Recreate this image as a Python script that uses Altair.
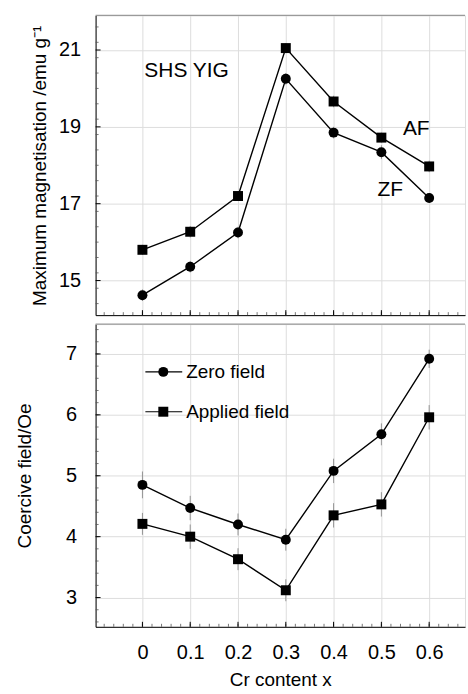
import altair as alt
import pandas as pd

# ---- data ----
x_vals = [0, 0.1, 0.2, 0.3, 0.4, 0.5, 0.6]

mag_zf = [14.62, 15.36, 16.25, 20.25, 18.85, 18.34, 17.15]
mag_af = [15.80, 16.27, 17.20, 21.05, 19.66, 18.72, 17.97]
mag_zf_err = [0.15, 0.15, 0.15, 0.15, 0.15, 0.18, 0.12]
mag_af_err = [0.13, 0.15, 0.13, 0.13, 0.15, 0.13, 0.15]

coe_zf = [4.85, 4.47, 4.20, 3.95, 5.08, 5.68, 6.92]
coe_af = [4.21, 4.00, 3.63, 3.12, 4.35, 4.53, 5.96]
coe_zf_err = [0.22, 0.20, 0.18, 0.18, 0.20, 0.18, 0.15]
coe_af_err = [0.18, 0.20, 0.18, 0.18, 0.20, 0.20, 0.20]

series_codes = ["ZF", "AF"]
series_shapes = ["circle", "square"]
legend_labels = ["Zero field", "Applied field"]

top_ticks = [15, 17, 19, 21]
bot_ticks = [3, 4, 5, 6, 7]
x_ticks = [0, 0.1, 0.2, 0.3, 0.4, 0.5, 0.6]

annot_text = ["SHS YIG", "AF", "ZF"]
annot_x = [0.004, 0.545, 0.492]
annot_y = [20.45, 18.95, 17.35]

FONT = "Liberation Sans"
W = 371
H_TOP = 301
H_BOT = 304
X_DOMAIN = [-0.098, 0.675]


def long_df(zf, af, zf_err, af_err):
    rows = []
    for code, vals, errs in (("ZF", zf, zf_err), ("AF", af, af_err)):
        for x, v, e in zip(x_vals, vals, errs):
            rows.append({"x": x, "v": v, "lo": v - e, "hi": v + e, "s": code})
    return pd.DataFrame(rows)


def panel(df, ydom, height, major, minor, title, title_x, label_pad, show_x, extras):
    xs = alt.Scale(domain=X_DOMAIN, nice=False, zero=False)
    ys = alt.Scale(domain=ydom, nice=False, zero=False)
    xaxis = alt.Axis(values=x_ticks, format="~g", tickSize=0, labels=show_x,
                     labelPadding=16, title="Cr content x" if show_x else None,
                     titlePadding=8, domainColor="black", labelFontSize=20,
                     titleFontSize=19, titleFontWeight="normal")
    yaxis = alt.Axis(values=major, format="~g", tickSize=0, labelPadding=label_pad,
                     title=title, titleX=title_x, titleBaseline="middle",
                     domainColor="black", labelFontSize=20, titleFontSize=19,
                     titleFontWeight="normal")
    base = alt.Chart(df)
    err = base.mark_rule(color="#8a8a8a", strokeWidth=0.9).encode(
        x=alt.X("x:Q", scale=xs, axis=xaxis),
        y=alt.Y("lo:Q", scale=ys, axis=yaxis),
        y2="hi:Q",
    )
    line = base.mark_line(color="black", strokeWidth=1.4).encode(
        x=alt.X("x:Q", scale=xs), y=alt.Y("v:Q", scale=ys), detail="s:N"
    )
    pts = base.mark_point(filled=True, color="black", size=100, opacity=1).encode(
        x=alt.X("x:Q", scale=xs), y=alt.Y("v:Q", scale=ys),
        shape=alt.Shape("s:N", scale=alt.Scale(domain=series_codes, range=series_shapes),
                        legend=None),
    )
    # inward ticks
    ymaj = alt.Chart(pd.DataFrame({"t": major})).mark_rule(color="black").encode(
        y=alt.Y("t:Q", scale=ys), x=alt.value(0), x2=alt.value(5))
    ymin = alt.Chart(pd.DataFrame({"t": minor})).mark_rule(color="#555", strokeWidth=0.8).encode(
        y=alt.Y("t:Q", scale=ys), x=alt.value(0), x2=alt.value(3))
    xmaj = alt.Chart(pd.DataFrame({"t": x_ticks})).mark_rule(color="black").encode(
        x=alt.X("t:Q", scale=xs), y=alt.value(height), y2=alt.value(height - 5))
    xminor_vals = [round(-0.08 + 0.02 * i, 2) for i in range(38)]
    xmin = alt.Chart(pd.DataFrame({"t": xminor_vals})).mark_rule(color="#555", strokeWidth=0.8).encode(
        x=alt.X("t:Q", scale=xs), y=alt.value(height), y2=alt.value(height - 3))
    topline = alt.Chart(pd.DataFrame({"a": [0]})).mark_rule(color="#9a9a9a", strokeWidth=1.2).encode(
        x=alt.value(0), x2=alt.value(W), y=alt.value(0))
    layers = [topline, ymin, ymaj, xmin, xmaj, err, line, pts] + extras(xs, ys)
    return alt.layer(*layers).properties(width=W, height=height)


def top_extras(xs, ys):
    adf = pd.DataFrame({"t": annot_text, "x": annot_x, "y": annot_y})
    return [alt.Chart(adf).mark_text(align="left", baseline="middle", fontSize=21,
                                     font=FONT, color="black").encode(
        x=alt.X("x:Q", scale=xs), y=alt.Y("y:Q", scale=ys), text="t:N")]


def bot_extras(xs, ys):
    out = []
    for i, (lab, shp) in enumerate(zip(legend_labels, series_shapes)):
        yy = 48 + 40 * i
        d = pd.DataFrame({"lab": [lab]})
        out.append(alt.Chart(d).mark_rule(color="black", strokeWidth=1.1).encode(
            x=alt.value(50), x2=alt.value(87), y=alt.value(yy)))
        out.append(alt.Chart(d).mark_point(filled=True, color="black", size=100, opacity=1,
                                           shape=shp).encode(
            x=alt.value(68), y=alt.value(yy)))
        out.append(alt.Chart(d).mark_text(align="left", baseline="middle", fontSize=19,
                                          font=FONT, color="black").encode(
            x=alt.value(91), y=alt.value(yy), text="lab:N"))
    return out


top = panel(long_df(mag_zf, mag_af, mag_zf_err, mag_af_err), [14.1, 21.9], H_TOP,
            top_ticks, [round(14.4 + 0.4 * i, 1) for i in range(19)],
            "Maximum magnetisation /emu g⁻¹", -56, 15, False, top_extras)
bot = panel(long_df(coe_zf, coe_af, coe_zf_err, coe_af_err), [2.52, 7.49], H_BOT,
            bot_ticks, [round(2.6 + 0.2 * i, 1) for i in range(25)],
            "Coercive field/Oe", -71, 19, True, bot_extras)

chart = alt.vconcat(top, bot, spacing=6).properties(
    padding={"left": 15, "top": 12, "right": 1, "bottom": 2}
).configure_view(stroke=None).configure_axis(
    grid=False, labelFont=FONT, titleFont=FONT, labelColor="black",
    titleColor="black", titleFontWeight="normal", domainWidth=1
).configure(background="white")

chart.save("out.html", embed_options={"renderer": "svg", "actions": False})
